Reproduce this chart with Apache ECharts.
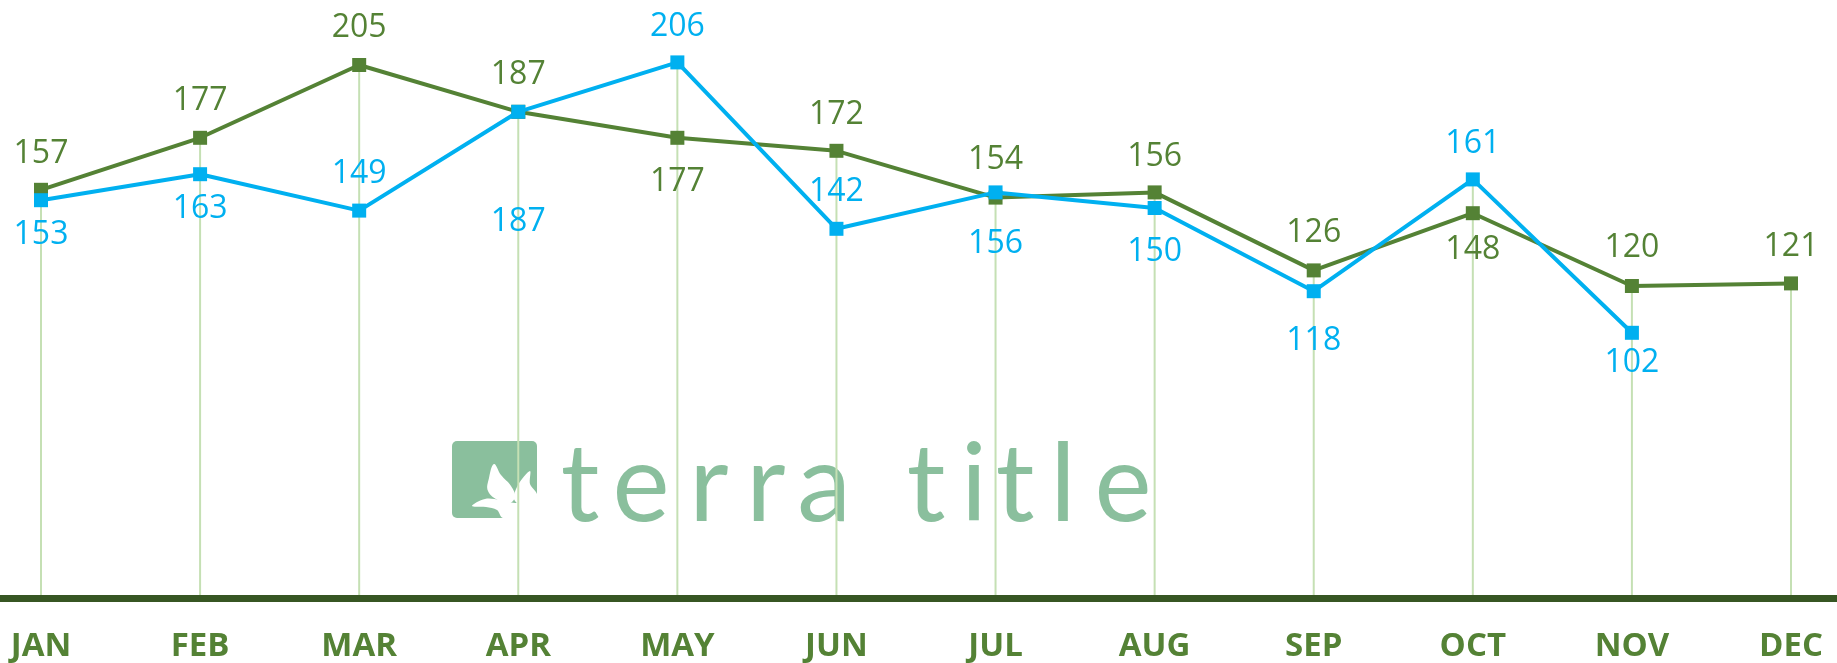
<!doctype html>
<html>
<head>
	<meta charset="utf-8">
	<title>terra title - monthly</title>
	<script src="https://cdn.jsdelivr.net/npm/echarts@6/dist/echarts.min.js"></script>
	<style>
		html, body { margin: 0; padding: 0; background: #fff; }
		#main { width: 1837px; height: 663px; }
	</style>
</head>
<body>
	<div id="main"></div>
	<script>
		// data
		var months = ['JAN', 'FEB', 'MAR', 'APR', 'MAY', 'JUN', 'JUL', 'AUG', 'SEP', 'OCT', 'NOV', 'DEC'];
		var greenVals = [157, 177, 205, 187, 177, 172, 154, 156, 126, 148, 120, 121];
		var blueVals = [153, 163, 149, 187, 206, 142, 156, 150, 118, 161, 102, null];
		// which side each value label sits on, and how far from the marker
		var greenSide = ['top', 'top', 'top', 'top', 'bottom', 'top', 'top', 'top', 'top', 'bottom', 'top', 'top'];
		var blueSide = ['bottom', 'bottom', 'top', 'bottom', 'top', 'top', 'bottom', 'bottom', 'bottom', 'top', 'bottom', 'top'];
		var greenGap = [13, 14, 14, 14, 21, 13, 15, 13, 15, 14, 15, 14];
		var blueGap = [12, 12, 14, 87, 13, 14, 28, 21, 27, 13, 7, 14];

		var GREEN = '#548235';
		var BLUE = '#00b0f0';
		var MARK = '#8abf9d';

		// drop lines go from the axis up to the higher point of each month
		var dropVals = months.map(function (m, i) {
			return Math.max(greenVals[i], blueVals[i] == null ? 0 : blueVals[i]);
		});

		function withLabels(vals, sides, gaps) {
			return vals.map(function (v, i) {
				return {
					value: v,
					label: { position: sides[i], distance: gaps[i] }
				};
			});
		}

		var chart = echarts.init(document.getElementById('main'));

		// watermark: logo block plus spaced letters
		var word = [['t', 580], ['e', 641], ['r', 709], ['r', 766], ['a', 824], ['t', 926], ['i', 974], ['t', 1015], ['l', 1063], ['e', 1123]];
		var graphics = [{
			type: 'rect',
			z: 0,
			shape: { x: 452, y: 441, width: 85, height: 77, r: 5 },
			style: { fill: MARK }
		}, {
			// left petal
			type: 'polygon',
			z: 0,
			shape: {
				smooth: 0.4,
				points: [[499, 501], [488, 491], [489, 478], [494, 464], [501, 475], [511, 486], [515, 497], [508, 504]]
			},
			style: { fill: '#ffffff' }
		}, {
			// right petal
			type: 'polygon',
			z: 0,
			shape: {
				smooth: 0.3,
				points: [[514, 499], [518, 485], [530, 471], [530, 484], [537, 494], [537, 506], [522, 506]]
			},
			style: { fill: '#ffffff' }
		}, {
			// lower swoosh
			type: 'polygon',
			z: 0,
			shape: {
				smooth: 0.35,
				points: [[472, 506], [485, 499], [500, 500], [515, 503], [537, 503], [537, 518], [503, 518], [497, 510], [486, 507]]
			},
			style: { fill: '#ffffff' }
		}];
		word.forEach(function (w) {
			graphics.push({
				type: 'text',
				z: 0,
				x: w[1],
				y: 432,
				style: {
					text: w[0],
					fill: MARK,
					font: 'normal 108px Lato',
					align: 'center',
					verticalAlign: 'top'
				}
			});
		});

		var option = {
			animation: false,
			backgroundColor: '#ffffff',
			grid: { left: 41, right: 46, top: 0, bottom: 63 },
			graphic: graphics,
			xAxis: {
				type: 'category',
				data: months,
				boundaryGap: false,
				axisLine: { show: false },
				axisTick: { show: false },
				splitLine: { show: false },
				axisLabel: {
					color: GREEN,
					fontFamily: 'Open Sans',
					fontWeight: 'bold',
					fontSize: 33,
					margin: 32
				}
			},
			yAxis: {
				type: 'value',
				min: 0,
				max: 230,
				show: false,
				splitLine: { show: false }
			},
			series: [{
				name: 'drop',
				type: 'bar',
				data: dropVals,
				barWidth: 2,
				itemStyle: { color: '#c5e0b4' },
				silent: true,
				z: 1
			}, {
				name: 'green',
				type: 'line',
				data: withLabels(greenVals, greenSide, greenGap),
				symbol: 'rect',
				symbolSize: 14,
				lineStyle: { color: GREEN, width: 4 },
				itemStyle: { color: GREEN },
				label: {
					show: true,
					color: GREEN,
					fontFamily: 'Open Sans',
					fontSize: 32
				},
				z: 3
			}, {
				name: 'blue',
				type: 'line',
				data: withLabels(blueVals, blueSide, blueGap),
				symbol: 'rect',
				symbolSize: 14,
				lineStyle: { color: BLUE, width: 4 },
				itemStyle: { color: BLUE },
				label: {
					show: true,
					color: BLUE,
					fontFamily: 'Open Sans',
					fontSize: 32
				},
				z: 4
			}]
		};
		chart.setOption(option);

		// the base line runs across the whole width, at the axis zero
		var y0 = chart.convertToPixel({ yAxisIndex: 0 }, 0);
		graphics.push({
			type: 'rect',
			z: 5,
			shape: { x: 0, y: y0 - 3, width: 1837, height: 7 },
			style: { fill: '#375623' }
		});
		chart.setOption({ graphic: graphics });
	</script>
</body>
</html>
